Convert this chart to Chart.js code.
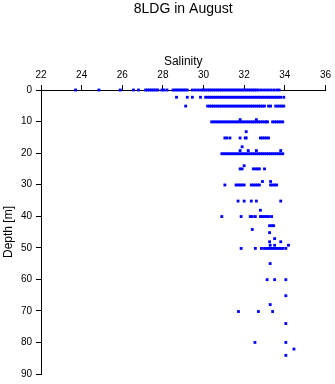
<!DOCTYPE html>
<html>
<head>
<meta charset="utf-8">
<script src="https://cdn.jsdelivr.net/npm/chart.js@4"></script>
<style>
  html, body { margin: 0; padding: 0; background: #fff; }
</style>
</head>
<body>
<canvas id="chart" width="335" height="384"></canvas>
<script>
// depth of each sample row [m]
const depths = [0, 2.3, 5.1, 9.4, 10.1, 13.2, 15.2, 18, 19.2, 20.2, 24, 25, 29, 30.1,
  35.2, 38.1, 40.1, 43, 44.2, 45.2, 47.1, 48.1, 49.2, 50.2, 55, 60.1, 65.2, 68, 70.2,
  74, 80, 82.1, 84.1];

// salinity readings at each depth row
const salinity = [
  [23.7, 24.85, 25.9, 26.55, 26.8, 27.15, 27.25, 27.35, 27.45, 27.55, 27.65, 27.75,
   27.95, 28.05, 28.2, 28.5, 28.6, 28.7, 28.8, 28.9, 29.0, 29.1, 29.2, 29.45, 29.6, 29.75,
   29.9, 30.0, 30.1, 30.2, 30.3, 30.4, 30.5, 30.6, 30.7, 30.8, 30.9, 31.0, 31.1, 31.2,
   31.3, 31.4, 31.5, 31.6, 31.7, 31.8, 31.9, 32.0, 32.1, 32.2, 32.3, 32.4, 32.5, 32.6,
   32.7, 32.85, 33.0, 33.15, 33.3, 33.45, 33.6, 33.72],
  [28.67, 29.2, 29.45, 29.85, 30.1, 30.2, 30.3, 30.4, 30.5, 30.6, 30.7, 30.8, 30.9, 31.0,
   31.1, 31.2, 31.3, 31.4, 31.5, 31.6, 31.7, 31.8, 31.9, 32.0, 32.1, 32.2, 32.3, 32.4,
   32.5, 32.6, 32.7, 32.8, 32.9, 33.0, 33.1, 33.2, 33.3, 33.4, 33.5, 33.6, 33.7, 33.8, 33.95],
  [29.12, 30.2, 30.3, 30.4, 30.5, 30.6, 30.7, 30.8, 30.9, 31.0, 31.1, 31.2, 31.3, 31.4,
   31.5, 31.6, 31.7, 31.8, 31.9, 32.0, 32.1, 32.2, 32.3, 32.4, 32.5, 32.6, 32.7, 32.8,
   32.9, 33.0, 33.2, 33.3, 33.55, 33.65, 33.75, 33.85, 33.95],
  [31.8, 32.6],
  [30.4, 30.5, 30.6, 30.7, 30.8, 30.9, 31.0, 31.1, 31.2, 31.3, 31.4, 31.5, 31.6, 31.7,
   31.8, 31.9, 32.0, 32.1, 32.2, 32.3, 32.4, 32.5, 32.6, 32.7, 32.8, 32.9, 33.0, 33.1,
   33.15, 33.4, 33.5, 33.6, 33.7, 33.8, 33.9],
  [32.1],
  [31.05, 31.15, 31.3, 31.8, 32.05, 32.1, 32.8, 32.9, 33.0, 33.1, 33.2],
  [31.9],
  [31.8, 32.2, 32.6, 33.8],
  [30.9, 31.0, 31.1, 31.2, 31.3, 31.4, 31.5, 31.6, 31.7, 31.8, 31.9, 32.0, 32.1, 32.2,
   32.3, 32.4, 32.5, 32.6, 32.7, 32.8, 32.9, 33.0, 33.1, 33.2, 33.3, 33.4, 33.5, 33.6,
   33.7, 33.8, 33.9],
  [32.0],
  [31.8, 31.9, 32.45, 32.55, 32.65, 32.75, 33.0],
  [32.9, 33.3],
  [31.05, 31.6, 31.7, 31.8, 31.9, 32.0, 32.35, 32.45, 32.55, 32.65, 32.75, 33.3, 33.4,
   33.5, 33.6],
  [31.7, 32.0, 32.35, 32.6, 33.8],
  [32.8],
  [30.9, 31.85, 32.3, 32.4, 32.55, 32.8, 32.9, 33.0, 33.1, 33.2, 33.35],
  [33.25, 33.35, 33.45],
  [32.4],
  [33.25],
  [33.5],
  [33.25, 33.8],
  [33.28, 33.5, 34.18],
  [31.85, 32.55, 32.85, 33.0, 33.1, 33.2, 33.3, 33.4, 33.5, 33.6, 33.7, 33.8, 33.9, 34.05],
  [33.28],
  [33.13, 33.5, 34.05],
  [34.05],
  [33.28],
  [31.72, 32.7, 33.4],
  [34.05],
  [32.53, 34.05],
  [34.45],
  [34.05]
];

const salinityTicks = [22, 24, 26, 28, 30, 32, 34, 36];
const depthTicks = [0, 10, 20, 30, 40, 50, 60, 70, 80, 90];

const points = [];
depths.forEach((d, i) => {
  salinity[i].forEach(s => points.push({ x: s, y: d }));
});

const font = 'Liberation Sans, Arial, Helvetica, sans-serif';

// centre the title over the plot area rather than the whole canvas
const titleOverPlot = {
  id: 'titleOverPlot',
  afterLayout(chart) {
    const t = chart.titleBlock;
    if (!t) return;
    t.left = chart.chartArea.left;
    t.right = chart.chartArea.right;
    t.width = t.right - t.left;
  }
};

new Chart(document.getElementById('chart'), {
  type: 'scatter',
  data: {
    datasets: [{
      data: points,
      pointStyle: 'rect',
      pointRadius: 2,
      pointBorderWidth: 0,
      pointBackgroundColor: '#0000ff',
      clip: false
    }]
  },
  options: {
    responsive: false,
    animation: false,
    layout: { padding: { left: 0, right: 9, top: 0, bottom: 9 } },
    plugins: {
      legend: { display: false },
      tooltip: { enabled: false },
      title: {
        display: true,
        text: '8LDG in August',
        color: '#000',
        font: { family: font, size: 14, weight: 'normal' },
        padding: { top: 1, bottom: 0 }
      }
    },
    scales: {
      x: {
        type: 'linear',
        position: 'top',
        min: 22,
        max: 36,
        afterBuildTicks: s => { s.ticks = salinityTicks.map(v => ({ value: v })); },
        afterFit: s => { s.height = 72.2; },
        ticks: { color: '#000', padding: 4, font: { family: font, size: 10 } },
        grid: { drawOnChartArea: false, drawTicks: true, tickLength: 5, color: '#000' },
        border: { display: true, color: '#000', width: 1 },
        title: {
          display: true,
          text: 'Salinity',
          color: '#000',
          font: { family: font, size: 12 },
          padding: { top: 36.5, bottom: 0 }
        }
      },
      y: {
        type: 'linear',
        reverse: true,
        min: 0,
        max: 90,
        afterBuildTicks: s => { s.ticks = depthTicks.map(v => ({ value: v })); },
        afterFit: s => { s.width = 41; },
        ticks: { color: '#000', padding: 4, font: { family: font, size: 10 } },
        grid: { drawOnChartArea: false, drawTicks: true, tickLength: 5, color: '#000' },
        border: { display: true, color: '#000', width: 1 },
        title: {
          display: true,
          text: 'Depth [m]',
          color: '#000',
          font: { family: font, size: 12 },
          padding: { top: 1, bottom: 0 }
        }
      }
    }
  },
  plugins: [titleOverPlot]
});
</script>
</body>
</html>
